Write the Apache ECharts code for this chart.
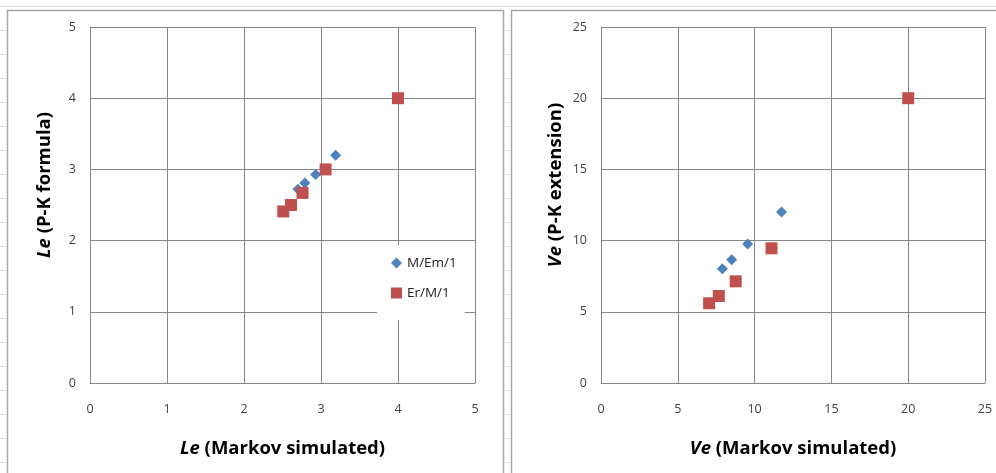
<!DOCTYPE html>
<html>
<head>
<meta charset="utf-8">
<script src="https://cdn.jsdelivr.net/npm/echarts@6/dist/echarts.min.js"></script>
<style>
  html, body { margin: 0; padding: 0; background: #fff; }
  #chart { width: 996px; height: 473px; }
</style>
</head>
<body>
<div id="chart"></div>
<script>
// Left panel: mean queue length Le, simulated vs. P-K formula
const leTicks = [0, 1, 2, 3, 4, 5];
const leMEm1 = [[2.70, 2.72], [2.79, 2.81], [2.93, 2.93], [3.19, 3.20]];
const leErM1 = [[2.51, 2.41], [2.61, 2.50], [2.76, 2.67], [3.06, 3.00], [4.00, 4.00]];

// Right panel: Ve, simulated vs. P-K extension
const veTicks = [0, 5, 10, 15, 20, 25];
const veMEm1 = [[7.90, 8.03], [8.51, 8.66], [9.55, 9.76], [11.75, 12.0]];
const veErM1 = [[7.04, 5.60], [7.67, 6.11], [8.77, 7.14], [11.10, 9.46], [20.0, 20.0]];

const seriesNames = ['M/Em/1', 'Er/M/1'];
const BLUE = '#4F81BD';
const RED = '#C0504D';
const FONT = '"Open Sans", "Noto Sans", sans-serif';
const TITLE_SIZE = 18.5;

const chart = echarts.init(document.getElementById('chart'), null, { renderer: 'canvas' });

function axisBase(ticks) {
  return {
    type: 'value',
    min: ticks[0],
    max: ticks[ticks.length - 1],
    interval: ticks[1] - ticks[0],
    axisLine: { show: true, lineStyle: { color: '#868686', width: 1 } },
    axisTick: { show: false },
    splitLine: { show: true, lineStyle: { color: '#868686', width: 1 } },
    axisLabel: { color: '#404040', fontSize: 12.5, fontFamily: FONT }
  };
}

const nameStyle = {
  fontFamily: FONT,
  fontWeight: 'bold',
  fontSize: TITLE_SIZE,
  color: '#000',
  rich: {
    i: { fontFamily: FONT, fontWeight: 'bold', fontStyle: 'italic', fontSize: TITLE_SIZE, color: '#000' },
    n: { fontFamily: FONT, fontWeight: 'bold', fontSize: TITLE_SIZE, color: '#000' }
  }
};

function xAxis(ticks, gridIndex, name) {
  return Object.assign(axisBase(ticks), {
    gridIndex,
    name,
    nameLocation: 'middle',
    nameGap: 56,
    nameTextStyle: nameStyle,
    axisLabel: Object.assign(axisBase(ticks).axisLabel, { margin: 20 })
  });
}

function yAxis(ticks, gridIndex, name) {
  return Object.assign(axisBase(ticks), {
    gridIndex,
    name,
    nameLocation: 'middle',
    nameGap: 36,
    nameRotate: 90,
    nameTextStyle: Object.assign({}, nameStyle, { padding: [0, 0, 0, 40] }),
    axisLabel: Object.assign(axisBase(ticks).axisLabel, { margin: 14 })
  });
}

// faint worksheet cell lines visible around the two chart frames
const sheetLines = [];
sheetLines.push({ type: 'line', shape: { x1: 0, y1: 6.5, x2: 996, y2: 6.5 }, style: { stroke: '#dcdff0', lineWidth: 1 }, silent: true });
for (let y = 30.5; y < 473; y += 24) {
  sheetLines.push({ type: 'line', shape: { x1: 0, y1: y, x2: 6, y2: y }, style: { stroke: '#dcdff0', lineWidth: 1 }, silent: true });
  sheetLines.push({ type: 'line', shape: { x1: 505, y1: y, x2: 511, y2: y }, style: { stroke: '#dcdff0', lineWidth: 1 }, silent: true });
}

const scatterStyle = (color) => ({ color, opacity: 1 });

chart.setOption({
  backgroundColor: '#ffffff',
  animation: false,
  graphic: sheetLines.concat([
    { type: 'rect', shape: { x: 7.5, y: 10.5, width: 496, height: 480 }, style: { fill: '#fff', stroke: '#a6a6a6', lineWidth: 1.5 }, silent: true, z: -1 },
    { type: 'rect', shape: { x: 511.5, y: 10.5, width: 500, height: 480 }, style: { fill: '#fff', stroke: '#a6a6a6', lineWidth: 1.5 }, silent: true, z: -1 }
  ]),
  grid: [
    { left: 90, top: 27, width: 385, height: 356, containLabel: false },
    { left: 601, top: 27, width: 384, height: 356, containLabel: false }
  ],
  xAxis: [
    xAxis(leTicks, 0, '{i|Le} {n|(Markov simulated)}'),
    xAxis(veTicks, 1, '{i|Ve} {n|(Markov simulated)}')
  ],
  yAxis: [
    yAxis(leTicks, 0, '{i|Le} {n|(P-K formula)}'),
    yAxis(veTicks, 1, '{i|Ve} {n|(P-K extension)}')
  ],
  legend: {
    data: [
      { name: seriesNames[0], icon: 'diamond' },
      { name: seriesNames[1], icon: 'rect' }
    ],
    orient: 'vertical',
    left: 377,
    top: 245,
    width: 89,
    padding: [11, 8, 20, 14],
    itemGap: 16,
    itemWidth: 11,
    itemHeight: 11,
    backgroundColor: '#ffffff',
    textStyle: { fontFamily: FONT, fontSize: 13.5, color: '#222' }
  },
  series: [
    { name: seriesNames[0], type: 'scatter', xAxisIndex: 0, yAxisIndex: 0, data: leMEm1, symbol: 'diamond', symbolSize: 11, itemStyle: scatterStyle(BLUE), z: 2 },
    { name: seriesNames[1], type: 'scatter', xAxisIndex: 0, yAxisIndex: 0, data: leErM1, symbol: 'rect', symbolSize: 12, itemStyle: scatterStyle(RED), z: 3 },
    { name: seriesNames[0], type: 'scatter', xAxisIndex: 1, yAxisIndex: 1, data: veMEm1, symbol: 'diamond', symbolSize: 11, itemStyle: scatterStyle(BLUE), z: 2 },
    { name: seriesNames[1], type: 'scatter', xAxisIndex: 1, yAxisIndex: 1, data: veErM1, symbol: 'rect', symbolSize: 12, itemStyle: scatterStyle(RED), z: 3 }
  ]
});
</script>
</body>
</html>
